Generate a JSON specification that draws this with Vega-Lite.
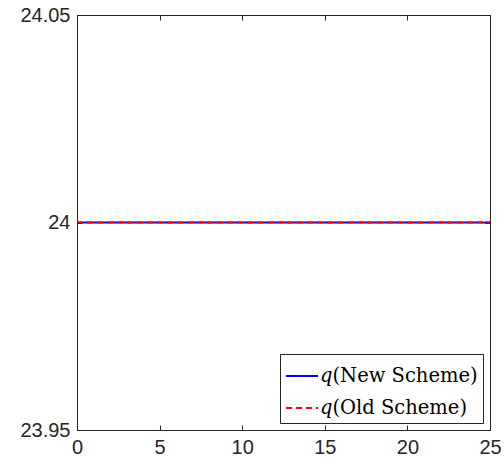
{
  "$schema": "https://vega.github.io/schema/vega-lite/v6.json",
  "width": 413,
  "height": 415,
  "autosize": "none",
  "padding": {"left": 77, "top": 15, "right": 14, "bottom": 36},
  "background": "white",
  "view": {"stroke": null},
  "data": {
    "values": [
      {"t": 0, "q": 24, "series": "New Scheme"},
      {"t": 5, "q": 24, "series": "New Scheme"},
      {"t": 10, "q": 24, "series": "New Scheme"},
      {"t": 15, "q": 24, "series": "New Scheme"},
      {"t": 20, "q": 24, "series": "New Scheme"},
      {"t": 25, "q": 24, "series": "New Scheme"},
      {"t": 0, "q": 24, "series": "Old Scheme"},
      {"t": 5, "q": 24, "series": "Old Scheme"},
      {"t": 10, "q": 24, "series": "Old Scheme"},
      {"t": 15, "q": 24, "series": "Old Scheme"},
      {"t": 20, "q": 24, "series": "Old Scheme"},
      {"t": 25, "q": 24, "series": "Old Scheme"}
    ]
  },
  "encoding": {
    "color": {
      "field": "series",
      "type": "nominal",
      "scale": {"domain": ["New Scheme", "Old Scheme"], "range": ["#0000ff", "#ff0000"]},
      "legend": {
        "title": null,
        "orient": "bottom-right",
        "offset": 7,
        "padding": 5,
        "strokeColor": "#262626",
        "fillColor": "white",
        "cornerRadius": 0,
        "symbolType": "stroke",
        "symbolSize": 1024,
        "symbolStrokeWidth": 2,
        "labelFont": "DejaVu Serif",
        "labelFontSize": 19.5,
        "labelColor": "black",
        "labelOffset": 1,
        "labelLimit": 300,
        "rowPadding": 5,
        "labelExpr": "'𝑞(' + datum.label + ')'"
      }
    },
    "strokeDash": {
      "field": "series",
      "type": "nominal",
      "scale": {"domain": ["New Scheme", "Old Scheme"], "range": [[1, 0], [6, 4]]}
    }
  },
  "layer": [
    {
      "transform": [{"filter": "datum.series == 'New Scheme'"}],
      "mark": {"type": "line", "strokeWidth": 2},
      "encoding": {
        "x": {
          "field": "t", "type": "quantitative",
          "scale": {"domain": [0, 25], "nice": false},
          "axis": {"orient": "bottom", "title": null, "values": [0, 5, 10, 15, 20, 25], "grid": false,
                   "tickSize": -5, "tickColor": "#262626", "domainColor": "#262626", "labelFlush": false,
                   "labelFont": "Liberation Sans", "labelFontSize": 20, "labelColor": "#262626", "labelPadding": 12}
        },
        "y": {
          "field": "q", "type": "quantitative",
          "scale": {"domain": [23.95, 24.05], "nice": false, "zero": false},
          "axis": {"orient": "left", "title": null, "values": [23.95, 24, 24.05], "grid": false,
                   "labelExpr": "datum.value > 24.01 ? '24.05' : datum.value < 23.99 ? '23.95' : '24'",
                   "tickSize": -5, "tickColor": "#262626", "domainColor": "#262626", "labelFlush": false,
                   "labelAlign": "right", "labelBaseline": "middle",
                   "labelFont": "Liberation Sans", "labelFontSize": 20, "labelColor": "#262626", "labelPadding": 12}
        }
      }
    },
    {
      "transform": [{"filter": "datum.series == 'Old Scheme'"}],
      "mark": {"type": "line", "strokeWidth": 2},
      "encoding": {
        "x": {
          "field": "t", "type": "quantitative",
          "axis": {"orient": "top", "title": null, "values": [0, 5, 10, 15, 20, 25], "labels": false, "grid": false,
                   "tickSize": -5, "tickColor": "#262626", "domainColor": "#262626"}
        },
        "y": {
          "field": "q", "type": "quantitative",
          "axis": {"orient": "right", "title": null, "values": [23.95, 24, 24.05], "labels": false, "grid": false,
                   "tickSize": -5, "tickColor": "#262626", "domainColor": "#262626"}
        }
      }
    }
  ],
  "resolve": {"axis": {"x": "independent", "y": "independent"}}
}
